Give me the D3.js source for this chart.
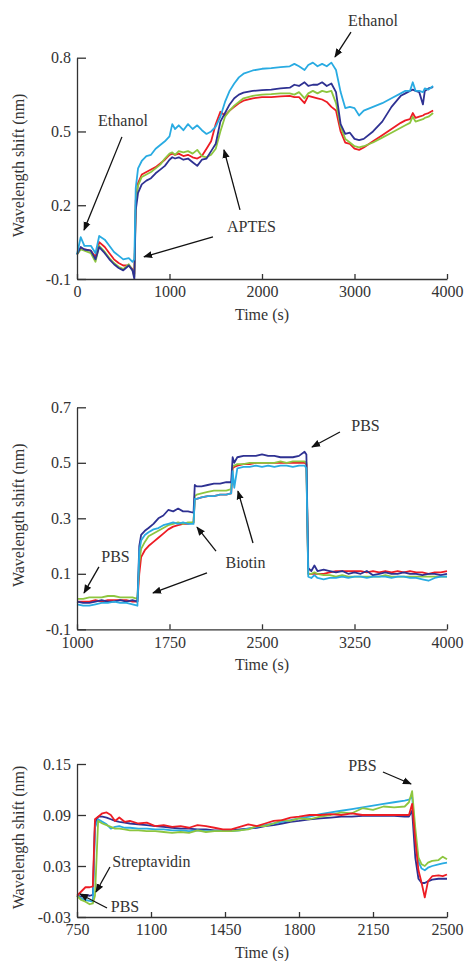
<!DOCTYPE html>
<html>
<head>
<meta charset="utf-8">
<script src="https://cdn.jsdelivr.net/npm/d3@7"></script>
<style>
  body { margin: 0; background: #fff; }
  svg text { font-family: "Liberation Serif", "DejaVu Serif", serif; fill: #333; font-weight: normal; }
</style>
</head>
<body>
<svg id="chart" width="465" height="961"></svg>
<script>
// ---- Panel 1: APTES ----
const time1 = [0, 40, 80, 150, 200, 240, 300, 350, 400, 450, 500, 560, 600, 620, 635, 660, 700, 750, 800, 850,
  900, 950, 1000, 1030, 1060, 1100, 1150, 1200, 1250, 1300, 1350, 1400, 1450, 1500, 1550, 1600, 1650, 1700, 1750, 1800,
  1900, 2000, 2100, 2200, 2300, 2350, 2400, 2460, 2500, 2550, 2600, 2650, 2700, 2750, 2800, 2850, 2900, 2950, 3000, 3050,
  3100, 3200, 3300, 3400, 3500, 3550, 3600, 3630, 3660, 3700, 3740, 3760, 3800, 3850];
const cyan1 = [0.0, 0.07, 0.035, 0.035, 0.005, 0.075, 0.06, 0.035, 0.01, -0.005, -0.02, -0.015, -0.03, -0.02, 0.27, 0.35, 0.38, 0.40, 0.405, 0.43,
  0.445, 0.46, 0.48, 0.53, 0.51, 0.525, 0.505, 0.53, 0.51, 0.525, 0.505, 0.49, 0.5, 0.52, 0.56, 0.62, 0.665, 0.695, 0.72, 0.735,
  0.748, 0.755, 0.758, 0.762, 0.765, 0.775, 0.765, 0.75, 0.77, 0.78, 0.765, 0.775, 0.765, 0.78, 0.75, 0.66, 0.595, 0.6, 0.595, 0.565,
  0.585, 0.6, 0.615, 0.635, 0.655, 0.665, 0.665, 0.7, 0.665, 0.665, 0.66, 0.675, 0.67, 0.685];
const navy1 = [0.0, 0.03, 0.02, 0.015, -0.02, 0.03, 0.005, -0.02, -0.04, -0.055, -0.065, -0.045, -0.065, -0.1, 0.18, 0.25, 0.285, 0.3, 0.31, 0.33,
  0.345, 0.36, 0.385, 0.395, 0.39, 0.395, 0.385, 0.39, 0.375, 0.36, 0.385, 0.39, 0.42, 0.45, 0.54, 0.575, 0.61, 0.635, 0.65, 0.658,
  0.665, 0.668, 0.67, 0.675, 0.678, 0.69, 0.685, 0.70, 0.685, 0.69, 0.69, 0.70, 0.685, 0.695, 0.66, 0.53, 0.49, 0.495, 0.47, 0.465,
  0.47, 0.50, 0.54, 0.60, 0.645, 0.655, 0.665, 0.67, 0.665, 0.66, 0.61, 0.665, 0.675, 0.68];
const red1 = [0.0, 0.025, 0.02, 0.015, -0.01, 0.05, 0.03, 0.005, -0.02, -0.035, -0.045, -0.045, -0.06, -0.08, 0.22, 0.29, 0.325, 0.335, 0.345, 0.355,
  0.37, 0.385, 0.405, 0.41, 0.405, 0.41, 0.40, 0.405, 0.395, 0.39, 0.40, 0.43, 0.46, 0.53, 0.58, 0.565, 0.585, 0.60, 0.615, 0.625,
  0.635, 0.64, 0.64, 0.643, 0.645, 0.64, 0.64, 0.615, 0.645, 0.64, 0.635, 0.63, 0.62, 0.60, 0.585, 0.50, 0.455, 0.45, 0.43, 0.425,
  0.435, 0.46, 0.485, 0.51, 0.535, 0.545, 0.55, 0.575, 0.555, 0.56, 0.565, 0.57, 0.575, 0.585];
const green1 = [0.0, 0.02, 0.015, 0.005, -0.03, 0.035, 0.01, -0.015, -0.035, -0.05, -0.06, -0.04, -0.065, -0.09, 0.20, 0.28, 0.315, 0.325, 0.335, 0.35,
  0.365, 0.39, 0.41, 0.415, 0.405, 0.42, 0.415, 0.42, 0.41, 0.425, 0.40, 0.395, 0.405, 0.43, 0.50, 0.56, 0.585, 0.605, 0.62, 0.635,
  0.645, 0.65, 0.652, 0.655, 0.655, 0.65, 0.66, 0.635, 0.655, 0.665, 0.655, 0.665, 0.66, 0.665, 0.615, 0.52, 0.47, 0.455, 0.44, 0.435,
  0.44, 0.455, 0.475, 0.495, 0.515, 0.525, 0.535, 0.56, 0.54, 0.545, 0.55, 0.555, 0.56, 0.575];

// ---- Panel 2: Biotin ----
const time2 = [1000, 1050, 1100, 1150, 1200, 1250, 1300, 1350, 1400, 1450, 1490, 1505, 1520, 1550, 1580, 1620, 1660, 1700, 1740, 1780,
  1820, 1860, 1900, 1945, 1955, 1970, 2010, 2060, 2110, 2160, 2210, 2250, 2262, 2275, 2300, 2350, 2400, 2450, 2500, 2550,
  2600, 2650, 2700, 2750, 2800, 2845, 2860, 2875, 2900, 2925, 2950, 3000, 3050, 3100, 3150, 3200, 3250, 3300, 3350, 3400,
  3450, 3500, 3550, 3600, 3650, 3700, 3750, 3800, 3850, 3900, 3950, 4000];
const navy2 = [0.0, -0.005, -0.005, 0.0, 0.005, 0.0, 0.0, 0.005, 0.0, 0.005, 0.0, 0.20, 0.24, 0.255, 0.265, 0.28, 0.30, 0.31, 0.33, 0.325,
  0.335, 0.325, 0.325, 0.32, 0.42, 0.415, 0.415, 0.42, 0.425, 0.425, 0.43, 0.43, 0.52, 0.50, 0.52, 0.525, 0.525, 0.525, 0.53, 0.525,
  0.525, 0.52, 0.52, 0.52, 0.525, 0.54, 0.53, 0.12, 0.11, 0.13, 0.11, 0.115, 0.11, 0.105, 0.11, 0.10, 0.105, 0.10, 0.11, 0.095,
  0.10, 0.105, 0.10, 0.10, 0.105, 0.10, 0.10, 0.095, 0.10, 0.10, 0.095, 0.10];
const cyan2 = [-0.01, -0.015, -0.015, -0.01, -0.005, -0.005, 0.0, -0.005, -0.005, -0.01, -0.015, 0.18, 0.22, 0.24, 0.25, 0.26, 0.265, 0.275, 0.28, 0.285,
  0.28, 0.285, 0.28, 0.28, 0.37, 0.37, 0.375, 0.38, 0.38, 0.385, 0.385, 0.39, 0.47, 0.41, 0.48, 0.485, 0.485, 0.49, 0.485, 0.49,
  0.485, 0.49, 0.49, 0.485, 0.49, 0.49, 0.48, 0.09, 0.085, 0.095, 0.085, 0.08, 0.085, 0.085, 0.09, 0.085, 0.09, 0.09, 0.085, 0.09,
  0.09, 0.09, 0.085, 0.09, 0.09, 0.085, 0.085, 0.08, 0.075, 0.085, 0.09, 0.09];
const green2 = [0.01, 0.01, 0.015, 0.015, 0.015, 0.02, 0.02, 0.015, 0.015, 0.015, 0.01, 0.14, 0.19, 0.215, 0.235, 0.245, 0.255, 0.265, 0.275, 0.28,
  0.285, 0.28, 0.285, 0.285, 0.38, 0.385, 0.39, 0.395, 0.40, 0.40, 0.40, 0.405, 0.49, 0.49, 0.495, 0.495, 0.50, 0.50, 0.50, 0.50,
  0.50, 0.505, 0.50, 0.505, 0.505, 0.505, 0.50, 0.10, 0.10, 0.105, 0.10, 0.095, 0.095, 0.09, 0.095, 0.09, 0.09, 0.09, 0.09, 0.09,
  0.09, 0.095, 0.09, 0.09, 0.09, 0.09, 0.09, 0.09, 0.09, 0.09, 0.09, 0.09];
const red2 = [0.0, 0.0, 0.0, 0.005, 0.0, 0.005, 0.005, 0.005, 0.005, 0.0, 0.0, 0.10, 0.16, 0.185, 0.20, 0.215, 0.23, 0.245, 0.26, 0.27,
  0.275, 0.28, 0.28, 0.285, 0.37, 0.37, 0.375, 0.38, 0.38, 0.385, 0.385, 0.39, 0.48, 0.485, 0.49, 0.495, 0.495, 0.50, 0.50, 0.50,
  0.50, 0.50, 0.50, 0.50, 0.50, 0.50, 0.495, 0.10, 0.10, 0.10, 0.10, 0.10, 0.105, 0.11, 0.11, 0.11, 0.11, 0.11, 0.105, 0.11,
  0.105, 0.11, 0.105, 0.11, 0.105, 0.11, 0.105, 0.105, 0.10, 0.105, 0.105, 0.11];

// ---- Panel 3: Streptavidin ----
const time3 = [750, 770, 790, 810, 825, 835, 850, 870, 890, 910, 930, 950, 975, 1000, 1040, 1080, 1120, 1160, 1200, 1240,
  1280, 1320, 1360, 1400, 1440, 1480, 1520, 1560, 1600, 1640, 1680, 1720, 1760, 1800, 1850, 1900, 1950, 2000, 2050, 2100,
  2150, 2200, 2250, 2300, 2320, 2335, 2350, 2365, 2380, 2395, 2410, 2430, 2460, 2480, 2500];
const red3 = [-0.005, 0.0, 0.005, 0.005, 0.006, 0.085, 0.088, 0.092, 0.093, 0.09, 0.083, 0.087, 0.082, 0.083, 0.08, 0.081, 0.077, 0.078, 0.076, 0.077,
  0.075, 0.078, 0.077, 0.075, 0.073, 0.073, 0.076, 0.079, 0.077, 0.08, 0.083, 0.084, 0.087, 0.088, 0.09, 0.09, 0.091, 0.09, 0.092, 0.09,
  0.09, 0.09, 0.09, 0.09, 0.09, 0.103, 0.06, 0.025, 0.01, -0.007, 0.012, 0.018, 0.019, 0.018, 0.02];
const navy3 = [-0.005, -0.006, -0.004, -0.005, -0.004, 0.08, 0.088, 0.088, 0.087, 0.085, 0.083, 0.082, 0.081, 0.08, 0.079, 0.078, 0.077, 0.076, 0.075, 0.074,
  0.074, 0.073, 0.073, 0.072, 0.072, 0.072, 0.073, 0.074, 0.075, 0.077, 0.078, 0.08, 0.082, 0.083, 0.085, 0.086, 0.087, 0.088, 0.088, 0.089,
  0.089, 0.089, 0.089, 0.088, 0.088, 0.095, 0.04, 0.015, 0.01, 0.01, 0.012, 0.014, 0.015, 0.015, 0.015];
const cyan3 = [-0.005, -0.008, -0.01, -0.011, -0.012, 0.075, 0.085, 0.082, 0.079, 0.074, 0.076, 0.077, 0.075, 0.075, 0.074, 0.074, 0.073, 0.073, 0.072, 0.072,
  0.071, 0.072, 0.071, 0.071, 0.071, 0.071, 0.072, 0.074, 0.076, 0.078, 0.08, 0.082, 0.084, 0.086, 0.088, 0.091, 0.093, 0.095, 0.097, 0.099,
  0.101, 0.103, 0.105, 0.107, 0.108, 0.112, 0.065, 0.035, 0.027, 0.025, 0.028, 0.03, 0.032, 0.033, 0.034];
const green3 = [-0.005, -0.01, -0.012, -0.015, -0.014, -0.005, 0.083, 0.08, 0.078, 0.076, 0.074, 0.074, 0.073, 0.072, 0.072, 0.071, 0.071, 0.07, 0.069, 0.07,
  0.069, 0.072, 0.07, 0.071, 0.071, 0.071, 0.072, 0.073, 0.077, 0.077, 0.08, 0.084, 0.083, 0.086, 0.085, 0.088, 0.09, 0.093, 0.092, 0.098,
  0.096, 0.1, 0.099, 0.1, 0.105, 0.118, 0.075, 0.04, 0.032, 0.03, 0.034, 0.036, 0.037, 0.041, 0.038];

// axis ticks
const xTicks1 = [0, 1000, 2000, 3000, 4000];
const yTicks1 = [-0.1, 0.2, 0.5, 0.8];
const xTicks2 = [1000, 1750, 2500, 3250, 4000];
const yTicks2 = [-0.1, 0.1, 0.3, 0.5, 0.7];
const xTicks3 = [750, 1100, 1450, 1800, 2150, 2500];
const yTicks3 = [-0.03, 0.03, 0.09, 0.15];

// annotations: text at [t, v], arrows from [t, v] to [t, v] (data units)
const notes1 = [
  { text: 'Ethanol', at: [3200, 0.929], arrows: [[[2962, 0.904], [2789, 0.803]]] },
  { text: 'Ethanol', at: [497, 0.522], arrows: [[[486, 0.478], [76, 0.099]]] },
  { text: 'APTES', at: [1886, 0.091], arrows: [[[1470, 0.071], [724, -0.01]], [[1762, 0.181], [1589, 0.425]]] }
];
const notes2 = [
  { text: 'PBS', at: [3339, 0.615], arrows: [[[3132, 0.611], [2905, 0.557]]] },
  { text: 'PBS', at: [1312, 0.143], arrows: [[[1178, 0.125], [1057, 0.031]]] },
  { text: 'Biotin', at: [2366, 0.121], arrows: [[[2054, 0.103], [1616, 0.031]], [[2127, 0.182], [1973, 0.268]], [[2427, 0.211], [2305, 0.398]]] }
];
const notes3 = [
  { text: 'PBS', at: [2100, 0.1418], arrows: [[[2197, 0.1406], [2330, 0.1265]]] },
  { text: 'Streptavidin', at: [1102, 0.0288], arrows: [[[906, 0.0288], [840, -0.0006]]] },
  { text: 'PBS', at: [977, -0.024], arrows: [[[892, -0.0194], [764, -0.0029]]] }
];

const colors = { cyan: '#29abe2', navy: '#2e3192', red: '#ed1c24', green: '#8dc63f' };

const panels = [
  { time: time1, series: [['red', red1], ['green', green1], ['navy', navy1], ['cyan', cyan1]],
    xDomain: [0, 4000], yDomain: [-0.1, 0.8], xTicks: xTicks1, yTicks: yTicks1, top: 57.7, bottom: 279, notes: notes1 },
  { time: time2, series: [['red', red2], ['green', green2], ['navy', navy2], ['cyan', cyan2]],
    xDomain: [1000, 4000], yDomain: [-0.1, 0.7], xTicks: xTicks2, yTicks: yTicks2, top: 407.3, bottom: 629.3, notes: notes2 },
  { time: time3, series: [['navy', navy3], ['cyan', cyan3], ['green', green3], ['red', red3]],
    xDomain: [750, 2500], yDomain: [-0.03, 0.15], xTicks: xTicks3, yTicks: yTicks3, top: 764, bottom: 917, notes: notes3 }
];

const left = 77, right = 447;
const svg = d3.select('#chart');

svg.append('defs').append('marker')
  .attr('id', 'arrowhead')
  .attr('viewBox', '0 0 10 10')
  .attr('refX', 9).attr('refY', 5)
  .attr('markerWidth', 9).attr('markerHeight', 9)
  .attr('markerUnits', 'userSpaceOnUse')
  .attr('orient', 'auto')
  .append('path')
  .attr('d', 'M0,1 L10,5 L0,9 Z')
  .attr('fill', '#111');

panels.forEach(p => {
  const x = d3.scaleLinear().domain(p.xDomain).range([left, right]);
  const y = d3.scaleLinear().domain(p.yDomain).range([p.bottom, p.top]);
  const g = svg.append('g');

  // series lines
  p.series.forEach(([name, values]) => {
    const line = d3.line()
      .x((d, i) => x(p.time[i]))
      .y(d => y(d));
    g.append('path')
      .datum(values)
      .attr('fill', 'none')
      .attr('stroke', colors[name])
      .attr('stroke-width', 1.8)
      .attr('stroke-linejoin', 'round')
      .attr('d', line);
  });

  // axes
  const xAxis = g.append('g')
    .attr('transform', `translate(0,${p.bottom})`)
    .call(d3.axisBottom(x).tickValues(p.xTicks).tickSizeInner(-5).tickSizeOuter(0).tickPadding(7).tickFormat(d => String(d)));
  const yAxis = g.append('g')
    .attr('transform', `translate(${left},0)`)
    .call(d3.axisLeft(y).tickValues(p.yTicks).tickSizeInner(-9).tickSizeOuter(0).tickPadding(6).tickFormat(d => String(d)));
  [xAxis, yAxis].forEach(a => {
    a.attr('font-family', null);
    a.select('.domain').attr('stroke', '#333').attr('stroke-width', 1.3);
    a.selectAll('.tick line').attr('stroke', '#333').attr('stroke-width', 1.3);
    a.selectAll('.tick text').attr('font-size', 16).attr('fill', '#333');
  });

  // axis titles
  g.append('text')
    .attr('x', (left + right) / 2)
    .attr('y', p.bottom + 41)
    .attr('text-anchor', 'middle')
    .attr('font-size', 16)
    .text('Time (s)');
  g.append('text')
    .attr('transform', `translate(24,${(p.top + p.bottom) / 2 - 3}) rotate(-90)`)
    .attr('text-anchor', 'middle')
    .attr('font-size', 16)
    .text('Wavelength shift (nm)');

  // annotations
  p.notes.forEach(n => {
    g.append('text')
      .attr('x', x(n.at[0]))
      .attr('y', y(n.at[1]))
      .attr('text-anchor', 'middle')
      .attr('font-size', 16)
      .text(n.text);
    n.arrows.forEach(([from, to]) => {
      g.append('line')
        .attr('x1', x(from[0])).attr('y1', y(from[1]))
        .attr('x2', x(to[0])).attr('y2', y(to[1]))
        .attr('stroke', '#111')
        .attr('stroke-width', 1.3)
        .attr('marker-end', 'url(#arrowhead)');
    });
  });
});
</script>
</body>
</html>
